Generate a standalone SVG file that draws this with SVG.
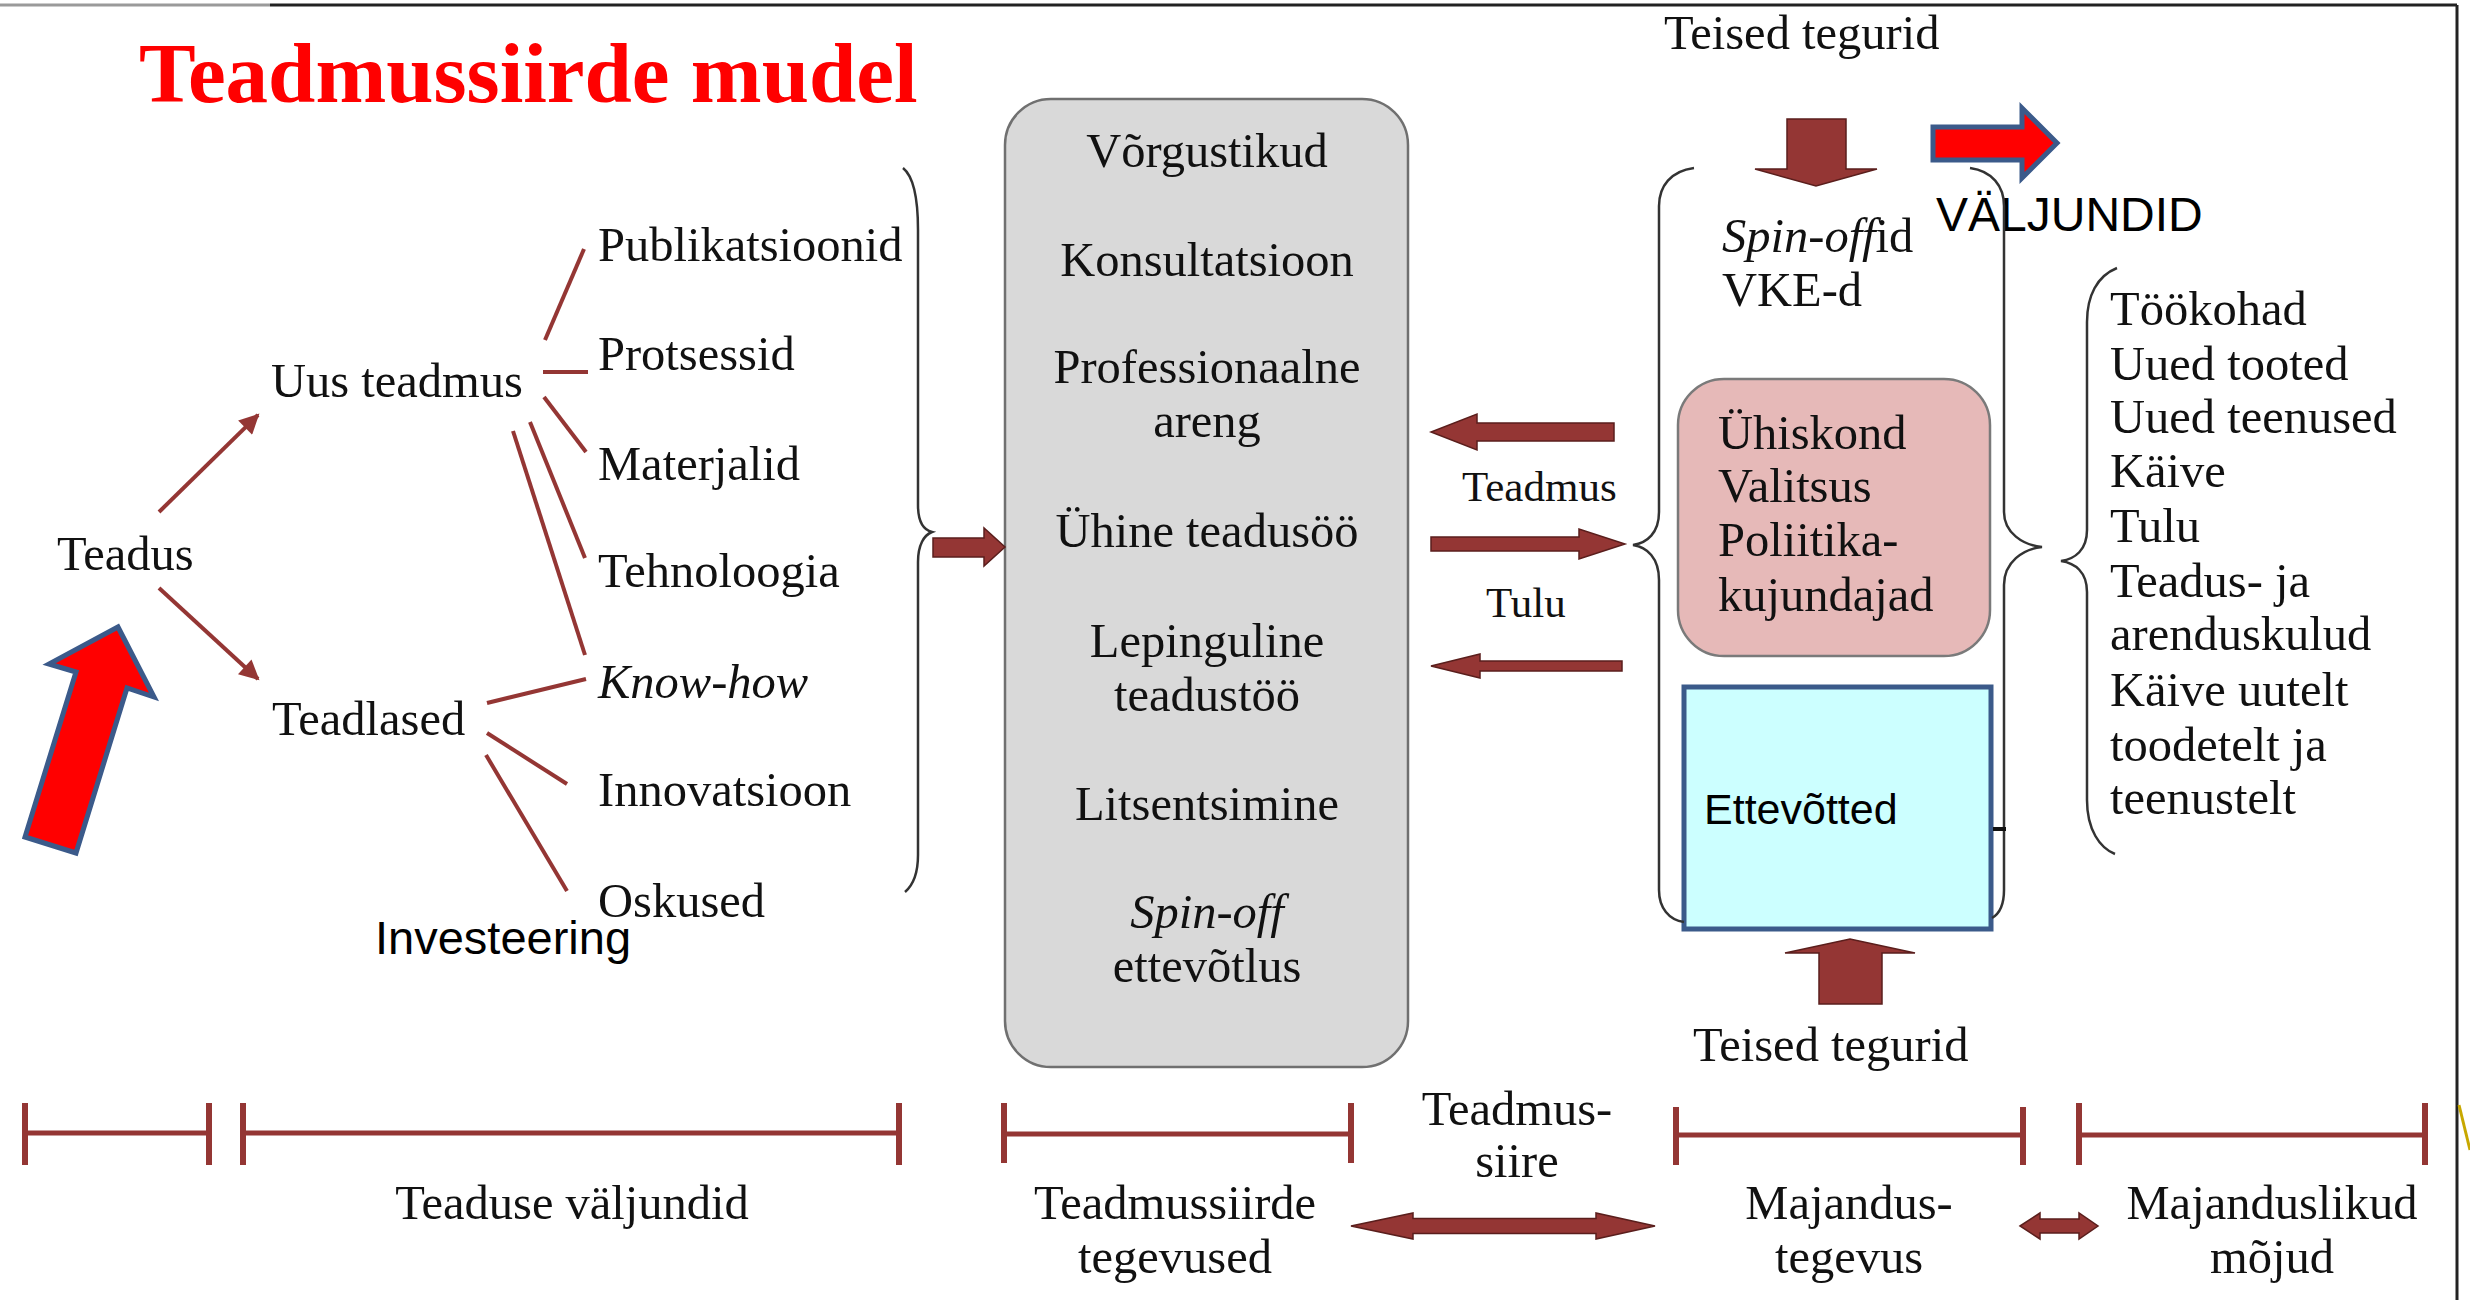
<svg xmlns="http://www.w3.org/2000/svg" width="2470" height="1300" viewBox="0 0 2470 1300">
<defs>
<style>
.t{font-family:"Liberation Serif","Times New Roman",serif;font-size:48.5px;fill:#111}
.tc{font-family:"Liberation Serif","Times New Roman",serif;font-size:48.5px;fill:#111;text-anchor:middle}
.ts{font-family:"Liberation Serif","Times New Roman",serif;font-size:43px;fill:#111}
.i{font-style:italic}
.sans{font-family:"Liberation Sans",Arial,sans-serif;fill:#000}
.rl{stroke:#943634;stroke-width:4;fill:none;stroke-linecap:butt}
.ba{fill:#943634;stroke:#5a1e1c;stroke-width:1.5;stroke-linejoin:miter}
.ra{fill:#ff0000;stroke:#3b5a8a;stroke-width:5;stroke-linejoin:miter}
.br{fill:none;stroke:#333;stroke-width:2.5}
.tl{stroke:#943634;stroke-width:5;fill:none}
.tk{stroke:#943634;stroke-width:6;fill:none}
</style>
<marker id="ah" viewBox="0 0 10 10" refX="9" refY="5" markerWidth="6" markerHeight="5" orient="auto">
<path d="M0,0 L10,5 L0,10 z" fill="#943634"/>
</marker>
</defs>
<rect width="2470" height="1300" fill="#ffffff"/>
<line x1="0" y1="5" x2="270" y2="5" stroke="#9a9a9a" stroke-width="3"/>
<line x1="270" y1="5" x2="2457" y2="5" stroke="#222" stroke-width="3"/>
<line x1="2457" y1="5" x2="2457" y2="1300" stroke="#222" stroke-width="3"/>
<line x1="2459" y1="1105" x2="2470" y2="1150" stroke="#c8a800" stroke-width="3"/>

<g id="title"><text x="139" y="102" font-family="Liberation Serif,'Times New Roman',serif" font-size="85" font-weight="bold" fill="#ff0000">Teadmussiirde mudel</text></g>

<g id="investeering-arrow"><polygon class="ra" points="118,627 154,697 127,688 76,853 25,837 76,672 49,664"/></g>

<g id="teadus"><text class="t" x="57" y="570">Teadus</text></g>
<g id="uus-teadmus"><text class="t" x="271" y="397">Uus teadmus</text></g>
<g id="teadlased"><text class="t" x="272" y="735">Teadlased</text></g>
<g id="publikatsioonid"><text class="t" x="598" y="261">Publikatsioonid</text></g>
<g id="protsessid"><text class="t" x="598" y="370">Protsessid</text></g>
<g id="materjalid"><text class="t" x="598" y="480">Materjalid</text></g>
<g id="tehnoloogia"><text class="t" x="598" y="587">Tehnoloogia</text></g>
<g id="know-how"><text class="t i" x="598" y="698">Know-how</text></g>
<g id="innovatsioon"><text class="t" x="598" y="806">Innovatsioon</text></g>
<g id="oskused"><text class="t" x="598" y="917">Oskused</text></g>
<g id="investeering"><text class="sans" x="375" y="954" font-size="47">Investeering</text></g>

<g id="tegevused">
<rect x="1005" y="99" width="403" height="968" rx="46" ry="46" fill="#d9d9d9" stroke="#707070" stroke-width="2.5"/>
<text class="tc" x="1207" y="167">Võrgustikud</text>
<text class="tc" x="1207" y="276">Konsultatsioon</text>
<text class="tc" x="1207" y="383">Professionaalne</text>
<text class="tc" x="1207" y="437">areng</text>
<text class="tc" x="1207" y="547">Ühine teadusöö</text>
<text class="tc" x="1207" y="657">Lepinguline</text>
<text class="tc" x="1207" y="711">teadustöö</text>
<text class="tc" x="1207" y="820">Litsentsimine</text>
<text class="tc i" x="1207" y="928">Spin-off</text>
<text class="tc" x="1207" y="982">ettevõtlus</text>
</g>

<g id="teised-tegurid-top"><text class="t" x="1664" y="49">Teised tegurid</text></g>
<g id="valjundid"><text class="sans" x="1936" y="231" font-size="48">VÄLJUNDID</text></g>
<g id="spinoffid">
<text class="t" x="1722" y="252"><tspan font-style="italic">Spin-off</tspan>id</text>
<text class="t" x="1722" y="306">VKE-d</text>
</g>
<g id="uhiskond">
<rect x="1678" y="379" width="312" height="277" rx="46" ry="46" fill="#e6b9b8" stroke="#7a7a7a" stroke-width="2.5"/>
<text class="t" x="1718" y="449">Ühiskond</text>
<text class="t" x="1718" y="502">Valitsus</text>
<text class="t" x="1718" y="556">Poliitika-</text>
<text class="t" x="1718" y="611">kujundajad</text>
</g>
<g id="ettevotted">
<rect x="1684" y="687" width="307" height="242" fill="#ccffff" stroke="#3b5a8a" stroke-width="5"/>
<text class="sans" x="1704" y="824" font-size="43">Ettevõtted</text>
</g>
<g id="teised-tegurid-bottom"><text class="t" x="1693" y="1061">Teised tegurid</text></g>

<g id="mojud-list">
<text class="t" x="2110" y="325">Töökohad</text>
<text class="t" x="2110" y="380">Uued tooted</text>
<text class="t" x="2110" y="433">Uued teenused</text>
<text class="t" x="2110" y="487">Käive</text>
<text class="t" x="2110" y="542">Tulu</text>
<text class="t" x="2110" y="597">Teadus- ja</text>
<text class="t" x="2110" y="650">arenduskulud</text>
<text class="t" x="2110" y="706">Käive uutelt</text>
<text class="t" x="2110" y="761">toodetelt ja</text>
<text class="t" x="2110" y="814">teenustelt</text>
</g>

<g id="timeline-labels">
<text class="tc" x="572" y="1219">Teaduse väljundid</text>
<text class="tc" x="1175" y="1219">Teadmussiirde</text>
<text class="tc" x="1175" y="1273">tegevused</text>
<text class="tc" x="1517" y="1125">Teadmus-</text>
<text class="tc" x="1517" y="1177">siire</text>
<text class="tc" x="1849" y="1219">Majandus-</text>
<text class="tc" x="1849" y="1273">tegevus</text>
<text class="tc" x="2272" y="1219">Majanduslikud</text>
<text class="tc" x="2272" y="1273">mõjud</text>
</g>

<g id="connectors">
<line class="rl" x1="159" y1="512" x2="258" y2="415" marker-end="url(#ah)"/>
<line class="rl" x1="159" y1="588" x2="258" y2="679" marker-end="url(#ah)"/>
<line class="rl" x1="545" y1="340" x2="584" y2="249" stroke-width="3.5"/>
<line class="rl" x1="543" y1="372" x2="588" y2="372" stroke-width="8"/>
<line class="rl" x1="544" y1="397" x2="586" y2="452"/>
<line class="rl" x1="530" y1="422" x2="585" y2="558"/>
<line class="rl" x1="513" y1="431" x2="585" y2="655"/>
<line class="rl" x1="487" y1="703" x2="586" y2="679" stroke-width="6"/>
<line class="rl" x1="487" y1="733" x2="567" y2="784" stroke-width="5"/>
<line class="rl" x1="486" y1="755" x2="567" y2="891"/>

<path class="br" d="M903,168 C913,176 918,196 918,230 L918,505 C918,522 924,530 932,532 C924,535 918,545 918,562 L918,855 C918,876 912,886 905,892"/>
<polygon class="ba" points="933,538 984,538 984,528 1005,547 984,566 984,557 933,557"/>

<polygon class="ba" points="1614,423 1477,423 1477,414 1431,432 1477,450 1477,441 1614,441"/>
<text class="ts" x="1462" y="501">Teadmus</text>
<polygon class="ba" points="1431,537 1579,537 1579,529 1625,544 1579,559 1579,551 1431,551"/>
<text class="ts" x="1486" y="617">Tulu</text>
<polygon class="ba" points="1622,661 1480,661 1480,654 1431,666 1480,678 1480,671 1622,671"/>

<path class="br" stroke="#444" d="M1694,168 C1671,171 1659,186 1659,206 L1659,512 C1659,533 1647,543 1633,545 C1647,547 1659,558 1659,580 L1659,890 C1659,908 1669,920 1684,922"/>
<path class="br" stroke="#555" d="M1970,168 C1992,171 2004,186 2004,206 L2004,512 C2004,533 2023,545 2042,547 C2023,549 2004,562 2004,585 L2004,890 C2004,905 1999,914 1992,918"/>
<path class="br" stroke="#555" d="M2117,268 C2097,276 2087,296 2087,322 L2087,530 C2087,550 2075,559 2061,561 C2075,563 2087,572 2087,592 L2087,800 C2087,830 2100,848 2115,854"/>
<line x1="1993" y1="829" x2="2006" y2="829" stroke="#111" stroke-width="4"/>

<polygon class="ba" points="1787,119 1846,119 1846,169 1877,169 1816,186 1755,169 1787,169"/>
<polygon class="ra" points="1933,127 2022,127 2022,108 2057,143 2022,178 2022,160 1933,160"/>
<polygon class="ba" points="1819,1004 1819,953 1785,953 1850,939 1915,953 1882,953 1882,1004"/>

<line class="tl" x1="25" y1="1133" x2="209" y2="1133"/>
<line class="tk" x1="25" y1="1103" x2="25" y2="1165"/>
<line class="tk" x1="209" y1="1103" x2="209" y2="1165"/>
<line class="tl" x1="243" y1="1133" x2="899" y2="1133"/>
<line class="tk" x1="243" y1="1103" x2="243" y2="1165"/>
<line class="tk" x1="899" y1="1103" x2="899" y2="1165"/>
<line class="tl" x1="1004" y1="1134" x2="1351" y2="1134" stroke-width="7"/>
<line class="tk" x1="1004" y1="1103" x2="1004" y2="1163"/>
<line class="tk" x1="1351" y1="1103" x2="1351" y2="1163"/>
<line class="tl" x1="1676" y1="1135" x2="2023" y2="1135" stroke-width="6"/>
<line class="tk" x1="1676" y1="1107" x2="1676" y2="1165"/>
<line class="tk" x1="2023" y1="1107" x2="2023" y2="1165"/>
<line class="tl" x1="2079" y1="1135" x2="2425" y2="1135" stroke-width="6"/>
<line class="tk" x1="2079" y1="1103" x2="2079" y2="1165"/>
<line class="tk" x1="2425" y1="1103" x2="2425" y2="1165"/>

<polygon class="ba" points="1351,1226 1413,1213 1413,1218.5 1596,1218.5 1596,1213 1655,1226 1596,1239 1596,1233.5 1413,1233.5 1413,1239"/>
<polygon class="ba" points="2020,1226 2040,1213 2040,1219 2079,1219 2079,1213 2098,1226 2079,1239 2079,1233 2040,1233 2040,1239"/>
</g>
</svg>
